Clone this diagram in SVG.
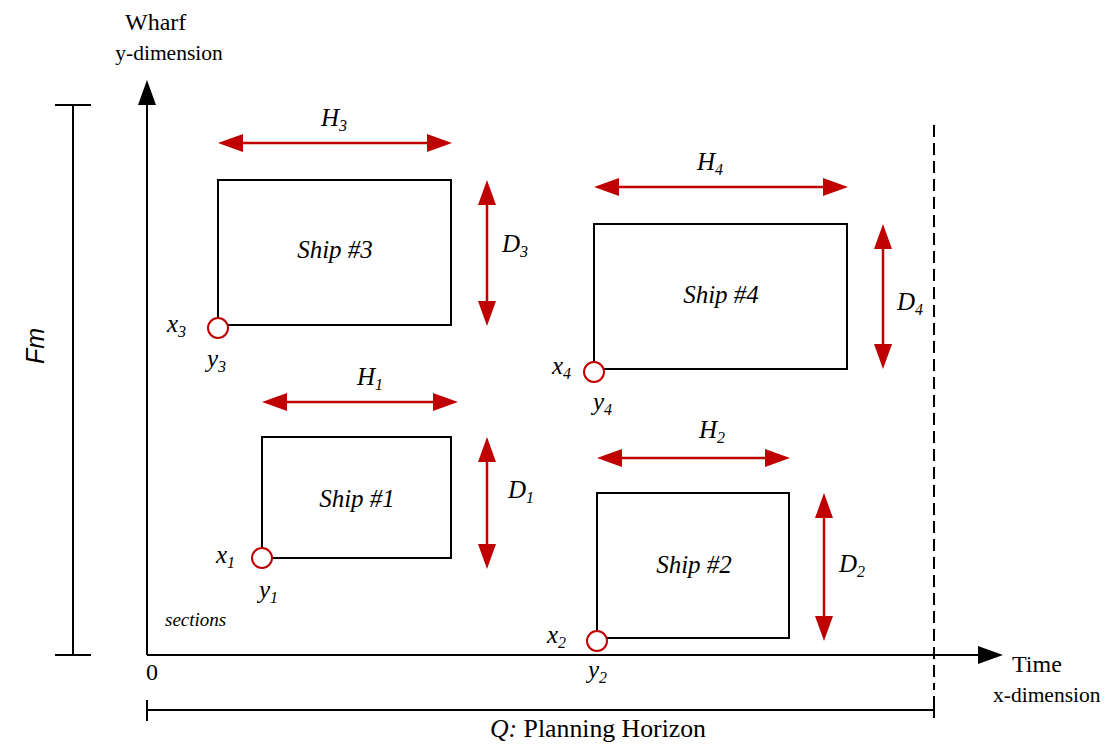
<svg xmlns="http://www.w3.org/2000/svg" width="1108" height="744" viewBox="0 0 1108 744">
<style>
.t{font-family:"Liberation Serif",serif;font-size:24px;fill:#000}
.i{font-family:"Liberation Serif",serif;font-style:italic;font-size:25px;fill:#000}
.sub{font-size:16px}
.ship{fill:none;stroke:#000;stroke-width:2}
.ln{stroke:#000;stroke-width:2;fill:none}
.red{stroke:#c00000;stroke-width:2.5;fill:none}
.pt{fill:#fff;stroke:#c00000;stroke-width:2}
.rh{fill:#c00000}
</style>
<rect width="1108" height="744" fill="#fff"/>
<g id="connectors">
<line class="ln" x1="147" y1="655" x2="147" y2="104"/>
<path d="M147,80 L138,105 L156,105 Z" fill="#000"/>
<line class="ln" x1="147" y1="655" x2="980" y2="655"/>
<path d="M1003,655 L978,646 L978,664 Z" fill="#000"/>
<line class="ln" x1="73" y1="105" x2="73" y2="655"/>
<line class="ln" x1="55" y1="105" x2="91" y2="105"/>
<line class="ln" x1="55" y1="655" x2="91" y2="655"/>
<line x1="934" y1="125" x2="934" y2="690" stroke="#000" stroke-width="2" stroke-dasharray="12,6"/>
<line class="ln" x1="147" y1="710" x2="934" y2="710"/>
<line class="ln" x1="147" y1="700" x2="147" y2="721"/>
<line class="ln" x1="934" y1="696" x2="934" y2="718"/>
<g>
<line class="red" x1="240" y1="143" x2="430" y2="143"/>
<path class="rh" d="M218,143 L243,134 L243,152 Z M452,143 L427,134 L427,152 Z"/>
<line class="red" x1="487" y1="200" x2="487" y2="305"/>
<path class="rh" d="M487,180 L478,205 L496,205 Z M487,326 L478,301 L496,301 Z"/>
<line class="red" x1="284" y1="402" x2="436" y2="402"/>
<path class="rh" d="M262,402 L287,393 L287,411 Z M458,402 L433,393 L433,411 Z"/>
<line class="red" x1="487" y1="457" x2="487" y2="548"/>
<path class="rh" d="M487,437 L478,462 L496,462 Z M487,569 L478,544 L496,544 Z"/>
<line class="red" x1="616" y1="187" x2="826" y2="187"/>
<path class="rh" d="M594,187 L619,178 L619,196 Z M848,187 L823,178 L823,196 Z"/>
<line class="red" x1="883" y1="244" x2="883" y2="349"/>
<path class="rh" d="M883,224 L874,249 L892,249 Z M883,369 L874,344 L892,344 Z"/>
<line class="red" x1="619" y1="458" x2="768" y2="458"/>
<path class="rh" d="M597,458 L622,449 L622,467 Z M790,458 L765,449 L765,467 Z"/>
<line class="red" x1="824" y1="513" x2="824" y2="620"/>
<path class="rh" d="M824,493 L815,518 L833,518 Z M824,641 L815,616 L833,616 Z"/>
</g>
</g>
<g id="labels">
<text class="t" x="125" y="30">Wharf</text>
<text class="t" x="169" y="60" text-anchor="middle" style="font-size:21.5px">y-dimension</text>
<text x="44" y="346" transform="rotate(-90 44 346)" text-anchor="middle" font-family="Liberation Sans,Arial,sans-serif" font-style="italic" font-size="25">Fm</text>
<text class="t" x="146" y="680">0</text>
<text class="t" x="1012" y="672">Time</text>
<text class="t" x="993" y="702" style="font-size:21.5px">x-dimension</text>
<text class="t" x="490" y="737" style="font-size:25px" textLength="216" lengthAdjust="spacingAndGlyphs"><tspan font-style="italic">Q:</tspan> Planning Horizon</text>
<text x="165" y="626" font-family="Liberation Serif,serif" font-style="italic" font-size="19">sections</text>
<text class="i" x="334" y="126" text-anchor="middle">H<tspan class="sub" dy="5">3</tspan></text>
<text class="i" x="502" y="252">D<tspan class="sub" dy="5">3</tspan></text>
<text class="i" x="370" y="385" text-anchor="middle">H<tspan class="sub" dy="5">1</tspan></text>
<text class="i" x="508" y="498">D<tspan class="sub" dy="5">1</tspan></text>
<text class="i" x="710" y="170" text-anchor="middle">H<tspan class="sub" dy="5">4</tspan></text>
<text class="i" x="897" y="310">D<tspan class="sub" dy="5">4</tspan></text>
<text class="i" x="712" y="438" text-anchor="middle">H<tspan class="sub" dy="5">2</tspan></text>
<text class="i" x="839" y="572">D<tspan class="sub" dy="5">2</tspan></text>
</g>
<g id="ship3">
<rect class="ship" x="218" y="180" width="233" height="145"/>
<text class="i" x="335" y="258" text-anchor="middle">Ship #3</text>
<circle class="pt" cx="218" cy="328" r="10"/>
<text class="i" x="167" y="332">x<tspan class="sub" dy="5">3</tspan></text>
<text class="i" x="207" y="367">y<tspan class="sub" dy="5">3</tspan></text>
</g>
<g id="ship1">
<rect class="ship" x="262" y="437" width="189" height="121"/>
<text class="i" x="357" y="507" text-anchor="middle">Ship #1</text>
<circle class="pt" cx="262" cy="558" r="10"/>
<text class="i" x="216" y="563">x<tspan class="sub" dy="5">1</tspan></text>
<text class="i" x="259" y="598">y<tspan class="sub" dy="5">1</tspan></text>
</g>
<g id="ship4">
<rect class="ship" x="594" y="224" width="253" height="145"/>
<text class="i" x="721" y="303" text-anchor="middle">Ship #4</text>
<circle class="pt" cx="594" cy="372" r="10"/>
<text class="i" x="552" y="374">x<tspan class="sub" dy="5">4</tspan></text>
<text class="i" x="593" y="410">y<tspan class="sub" dy="5">4</tspan></text>
</g>
<g id="ship2">
<rect class="ship" x="597" y="493" width="192" height="145"/>
<text class="i" x="694" y="573" text-anchor="middle">Ship #2</text>
<circle class="pt" cx="597" cy="641" r="10"/>
<text class="i" x="547" y="643">x<tspan class="sub" dy="5">2</tspan></text>
<text class="i" x="588" y="678">y<tspan class="sub" dy="5">2</tspan></text>
</g>
</svg>
